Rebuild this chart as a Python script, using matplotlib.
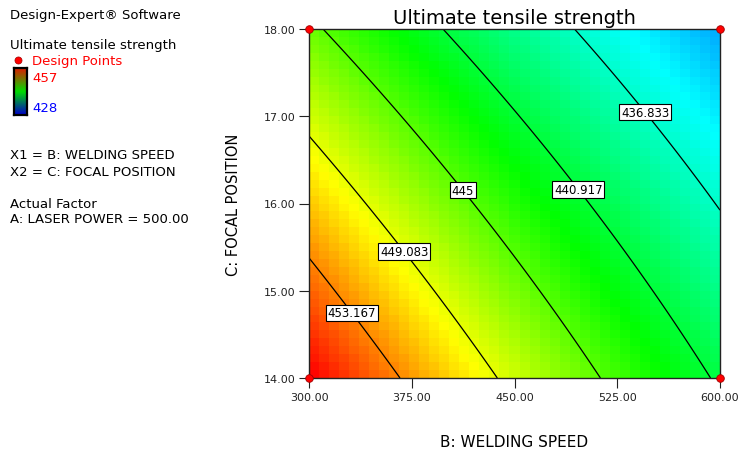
import matplotlib

matplotlib.use("Agg")
import matplotlib.pyplot as plt
import numpy as np
from matplotlib.colors import LinearSegmentedColormap

FIG_W, FIG_H = 742, 456

# quadratic model in coded units (B, C scaled to -1..1)
INTERCEPT = 443.515
B_COEF = -7.33
C_COEF = -4.87
BB_COEF = 0.50
CC_COEF = 0.0
BC_COEF = 0.975

speed_range = [300.0, 600.0]
focal_range = [14.0, 18.0]
speed_ticks = [300, 375, 450, 525, 600]
focal_ticks = [14, 15, 16, 17, 18]

contour_levels = [436.833, 440.917, 445.0, 449.083, 453.167]
contour_text = ["436.833", "440.917", "445", "449.083", "453.167"]
label_speed = [547, 499, 415, 372, 334]
label_focal = [17.07, 16.19, 16.19, 15.48, 14.78]

design_speed = [300, 300, 600, 600]
design_focal = [14, 18, 14, 18]

response_low = 428
response_high = 457

surface_cmap = LinearSegmentedColormap.from_list(
    "de", ["#0000ff", "#00ffff", "#00ff00", "#ffff00", "#ff0000"]
)
legend_cmap = LinearSegmentedColormap.from_list(
    "de_legend", ["#0000c8", "#00dc00", "#dc1e00"]
)


def response(speed, focal):
    b = (speed - sum(speed_range) / 2) / ((speed_range[1] - speed_range[0]) / 2)
    c = (focal - sum(focal_range) / 2) / ((focal_range[1] - focal_range[0]) / 2)
    return (INTERCEPT + B_COEF * b + C_COEF * c + BB_COEF * b ** 2
            + CC_COEF * c ** 2 + BC_COEF * b * c)


def fig_xy(x, y):
    return x / FIG_W, 1 - y / FIG_H


def main():
    fig = plt.figure(figsize=(FIG_W / 100, FIG_H / 100), dpi=100)
    ax = fig.add_axes([309 / FIG_W, 77 / FIG_H, 411 / FIG_W, 349 / FIG_H])

    # blocky colour surface like the original export
    b_edges = np.linspace(speed_range[0], speed_range[1], 42)
    c_edges = np.linspace(focal_range[0], focal_range[1], 45)
    b_mid = (b_edges[:-1] + b_edges[1:]) / 2
    c_mid = (c_edges[:-1] + c_edges[1:]) / 2
    bb, cc = np.meshgrid(b_mid, c_mid)
    ax.pcolormesh(b_edges, c_edges, response(bb, cc), cmap=surface_cmap,
                  vmin=response_low, vmax=response_high, shading="flat")

    b_fine = np.linspace(speed_range[0], speed_range[1], 300)
    c_fine = np.linspace(focal_range[0], focal_range[1], 300)
    bf, cf = np.meshgrid(b_fine, c_fine)
    cs = ax.contour(bf, cf, response(bf, cf), levels=contour_levels,
                    colors="black", linewidths=0.9)
    fmt = dict(zip(cs.levels, contour_text))
    labels = ax.clabel(cs, fmt=fmt, inline=False, fontsize=8.5,
                       manual=list(zip(label_speed, label_focal)))
    for t in labels:
        t.set_rotation(0)
        t.set_bbox(dict(facecolor="white", edgecolor="black",
                        linewidth=0.8, pad=1.2))

    ax.scatter(design_speed, design_focal, s=30, color="#ff0000",
               edgecolors="#a00000", linewidths=0.6, zorder=5, clip_on=False)

    ax.set_xlim(speed_range)
    ax.set_ylim(focal_range)
    ax.set_xticks(speed_ticks, labels=[f"{v:.2f}" for v in speed_ticks])
    ax.set_yticks(focal_ticks, labels=[f"{v:.2f}" for v in focal_ticks])
    ax.tick_params(direction="out", length=7, width=0.8, labelsize=8,
                   colors="#222222", pad=3)
    for spine in ax.spines.values():
        spine.set_linewidth(1.0)
        spine.set_color("#222222")
    ax.set_xlabel("B: WELDING SPEED", fontsize=11, labelpad=23)
    ax.set_ylabel("C: FOCAL POSITION", fontsize=10.5, labelpad=16)
    ax.set_title("Ultimate tensile strength", fontsize=14, pad=4)

    # left info panel
    fs = 9.5
    fig.text(*fig_xy(10, 16), "Design-Expert® Software", fontsize=fs, va="center")
    fig.text(*fig_xy(10, 46), "Ultimate tensile strength", fontsize=fs, va="center")
    fig.text(*fig_xy(32, 62), "Design Points", fontsize=fs, va="center",
             color="#ff0000")

    # pixel-space overlay for the legend dot
    dot_ax = fig.add_axes([0, 0, 1, 1], facecolor="none")
    dot_ax.set_xlim(0, FIG_W)
    dot_ax.set_ylim(FIG_H, 0)
    dot_ax.axis("off")
    dot_ax.scatter([18], [61], s=26, color="#ff0000", edgecolors="#a00000",
                   linewidths=0.5)

    bar_ax = fig.add_axes([14 / FIG_W, 1 - 116 / FIG_H, 13 / FIG_W, 47 / FIG_H])
    bar_ax.imshow(np.linspace(response_high, response_low, 60).reshape(-1, 1),
                  cmap=legend_cmap, vmin=response_low, vmax=response_high,
                  aspect="auto")
    bar_ax.set_xticks([])
    bar_ax.set_yticks([])
    for spine in bar_ax.spines.values():
        spine.set_linewidth(1.6)
        spine.set_color("black")

    fig.text(*fig_xy(32, 78), str(response_high), fontsize=fs, va="center",
             color="#ff0000")
    fig.text(*fig_xy(32, 109), str(response_low), fontsize=fs, va="center",
             color="#0000ff")
    fig.text(*fig_xy(10, 156), "X1 = B: WELDING SPEED", fontsize=fs, va="center")
    fig.text(*fig_xy(10, 172), "X2 = C: FOCAL POSITION", fontsize=fs, va="center")
    fig.text(*fig_xy(10, 204), "Actual Factor", fontsize=fs, va="center")
    fig.text(*fig_xy(10, 220), "A: LASER POWER = 500.00", fontsize=fs, va="center")

    fig.savefig("out.png", dpi=100)


if __name__ == "__main__":
    main()
